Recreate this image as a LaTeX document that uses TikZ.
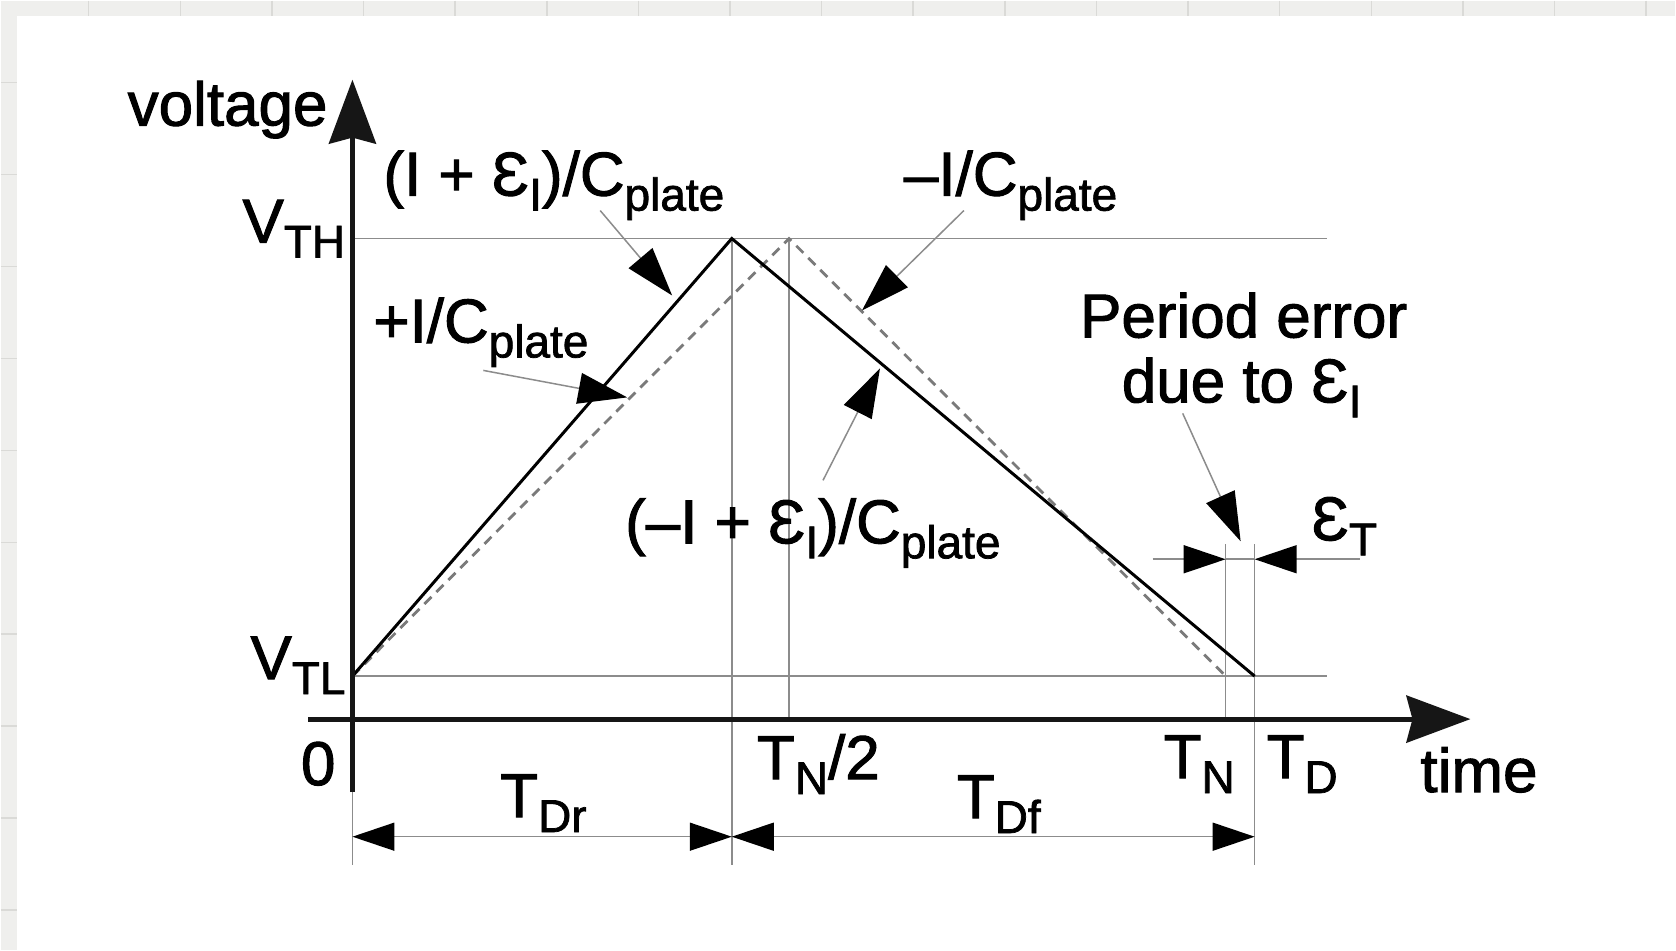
\documentclass[tikz,border=0pt]{standalone}
\usepackage{fontspec}
\setmainfont{Liberation Sans}[BoldFont={Liberation Sans},BoldFeatures={FakeBold=1.6}]
\usetikzlibrary{arrows.meta}
\definecolor{bggray}{HTML}{EFEFED}
\definecolor{gridgray}{HTML}{DADAD7}
\definecolor{guidegray}{HTML}{8C8C8C}
\definecolor{dashgray}{HTML}{7A7A7A}
\definecolor{axisblack}{HTML}{161616}
\newcommand\lowsub[1]{\raisebox{-7.5pt}{\fontsize{23}{23}\selectfont #1}}
\newcommand\openE{\symbol{"0190}}
\begin{document}
\begin{tikzpicture}[x=0.5pt,y=-0.5pt,
  txt/.style={inner sep=0pt,outer sep=0pt,font=\fontsize{31}{31}\selectfont\bfseries},
  guide/.style={draw=guidegray,line width=0.75pt},
  axisline/.style={draw=axisblack,line width=2.5pt,-{Stealth[length=32pt,width=23.5pt,inset=3pt,color=axisblack]}},
  ramp/.style={draw=black,line width=1.5pt},
  nominal/.style={draw=dashgray,line width=1.4pt,dash pattern=on 5pt off 3.5pt},
  callout/.style={draw=guidegray,line width=0.75pt,-{Triangle[length=24.5pt,width=15.5pt,color=black]}},
  dimline/.style={draw=guidegray,line width=0.75pt},
  dimboth/.style={dimline,{Triangle[length=21pt,width=14pt,color=black]}-{Triangle[length=21pt,width=14pt,color=black]}},
  dimone/.style={dimline,-{Triangle[length=21pt,width=14pt,color=black]}}
]
% background
\fill[bggray] (0,0) rectangle (1676,950);
\foreach \i in {0,...,17} \draw[gridgray,line width=0.75pt] ({88+91.7*\i},0) -- ({88+91.7*\i},950);
\foreach \i in {0,...,9} \draw[gridgray,line width=0.75pt] (0,{82+92*\i}) -- (1676,{82+92*\i});
\fill[white] (16,15) rectangle (1676,950);
\useasboundingbox (0,0) rectangle (1676,950);

% key points
\coordinate (O) at (352,719);
\coordinate (ybot) at (352,792);
\coordinate (ytip) at (352,79);
\coordinate (xleft) at (308,719);
\coordinate (xtip) at (1471,719);
\coordinate (S) at (352,676);
\coordinate (Pk) at (731.7,238);
\coordinate (Pd) at (789,238);
\coordinate (E) at (1255,676);
\coordinate (Ed) at (1226,676);
\coordinate (THa) at (352,238);
\coordinate (THb) at (1327,238);
\coordinate (TLb) at (1327,676);
\coordinate (PkLow) at (731.7,865);
\coordinate (PdLow) at (789,719);
\coordinate (EdTop) at (1226,544);
\coordinate (EdLow) at (1226,719);
\coordinate (ETop) at (1255,544);
\coordinate (ELow) at (1255,865);
\coordinate (OLow) at (352,865);
\coordinate (dA) at (352,836.7);
\coordinate (dB) at (731.7,836.7);
\coordinate (dC) at (1255,836.7);
\coordinate (eL) at (1153,559);
\coordinate (eA) at (1226,559);
\coordinate (eB) at (1255,559);
\coordinate (eR) at (1360,559);

% guides
\draw[guide] (THa) -- (THb);
\draw[guide] (S) -- (TLb);
\draw[guide] (Pk) -- (PkLow);
\draw[guide] (Pd) -- (PdLow);
\draw[guide] (EdTop) -- (EdLow);
\draw[guide] (ETop) -- (ELow);
\draw[guide] (O) -- (OLow);

% dimensions
\draw[dimboth] (dA) -- (dB);
\draw[dimboth] (dB) -- (dC);
\draw[dimline] (eA) -- (eB);
\draw[dimone] (eL) -- (eA);
\draw[dimone] (eR) -- (eB);

% waveforms
\draw[nominal] (S) -- (Pd) -- (Ed);
\draw[ramp] (S) -- (Pk) -- (E);

% axes
\draw[axisline] (ybot) -- (ytip);
\draw[axisline] (xleft) -- (xtip);

% labels
\node[txt,anchor=base east] (volt) at (327,125) {voltage};
\node[txt,anchor=base west] (vth) at (242,242) {V\lowsub{TH}};
\node[txt,anchor=base west] (vtl) at (250,679) {V\lowsub{TL}};
\node[txt,anchor=base east] (zero) at (335,785) {0};
\node[txt,anchor=base west] (lup) at (383,195) {(I + \openE\lowsub{I})/C\lowsub{plate}};
\node[txt,anchor=base west] (lpi) at (373,342) {+I/C\lowsub{plate}};
\node[txt,anchor=base west] (lmi) at (904,195) {–I/C\lowsub{plate}};
\node[txt,anchor=base] (per1) at (1244,337) {Period error};
\node[txt,anchor=base] (per2) at (1242,402) {due to \openE\lowsub{I}};
\node[txt,anchor=base west] (ldn) at (625,543) {(–I + \openE\lowsub{I})/C\lowsub{plate}};
\node[txt,anchor=base west] (et) at (1312,540) {\openE\lowsub{T}};
\node[txt,anchor=base west] (tdr) at (500,817) {T\lowsub{Dr}};
\node[txt,anchor=base west] (tn2) at (757,779) {T\lowsub{N}/2};
\node[txt,anchor=base west] (tdf) at (957,818) {T\lowsub{Df}};
\node[txt,anchor=base west] (tn) at (1164,778) {T\lowsub{N}};
\node[txt,anchor=base west] (td) at (1267,778) {T\lowsub{D}};
\node[txt,anchor=base west] (time) at (1421,792) {time};

% callouts
\coordinate (c1s) at (600,210); \coordinate (c1t) at (672,295);
\coordinate (c2s) at (483,370); \coordinate (c2t) at (627,397);
\coordinate (c3s) at (964,210); \coordinate (c3t) at (862,310);
\coordinate (c4s) at (823,480); \coordinate (c4t) at (880,368);
\coordinate (c5s) at (1183,413); \coordinate (c5t) at (1241,541);
\draw[callout] (c1s) -- (c1t);
\draw[callout] (c2s) -- (c2t);
\draw[callout] (c3s) -- (c3t);
\draw[callout] (c4s) -- (c4t);
\draw[callout] (c5s) -- (c5t);
\end{tikzpicture}
\end{document}
